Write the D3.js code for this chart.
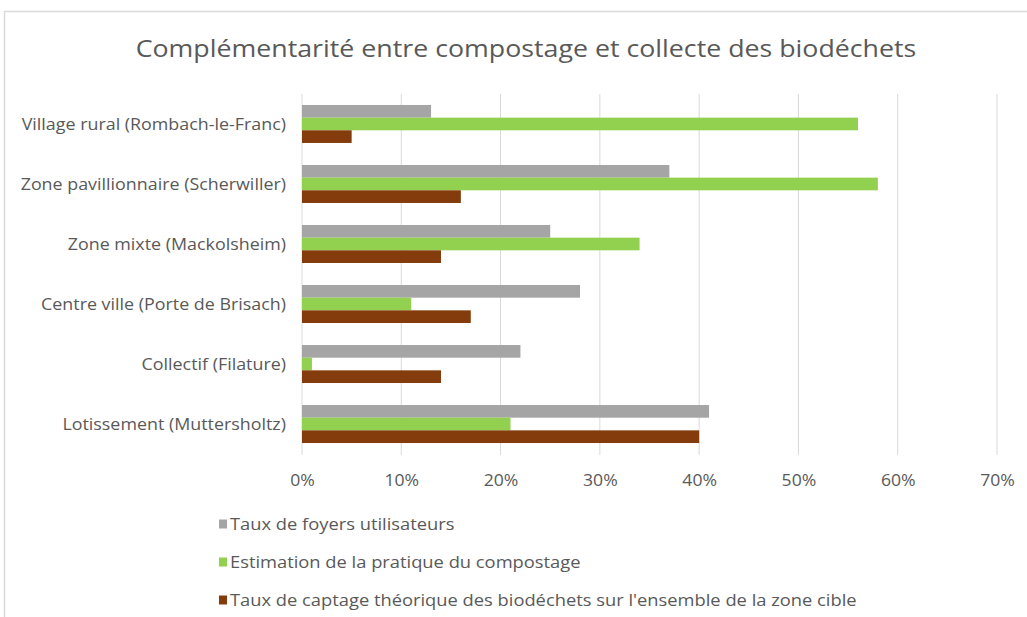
<!DOCTYPE html>
<html><head><meta charset="utf-8">
<script src="https://cdn.jsdelivr.net/npm/d3@7/dist/d3.min.js"></script>
<style>body{margin:0;background:#fff;overflow:hidden}svg{display:block}</style>
</head><body>
<script>
const categories = ["Village rural (Rombach-le-Franc)","Zone pavillionnaire (Scherwiller)","Zone mixte (Mackolsheim)","Centre ville (Porte de Brisach)","Collectif (Filature)","Lotissement (Muttersholtz)"];
const seriesNames = ["Taux de foyers utilisateurs","Estimation de la pratique du compostage","Taux de captage théorique des biodéchets sur l'ensemble de la zone cible"];
const seriesColors = ["#A5A5A5","#92D050","#843C0C"];
const foyers = [0.13,0.37,0.25,0.28,0.22,0.41];
const compostage = [0.56,0.58,0.34,0.11,0.01,0.21];
const captage = [0.05,0.16,0.14,0.17,0.14,0.40];
const xTicks = [0,0.1,0.2,0.3,0.4,0.5,0.6,0.7];
const title = "Complémentarité entre compostage et collecte des biodéchets";

const series = [foyers, compostage, captage];
const W = 1027, H = 617;
const svg = d3.select("body").append("svg").attr("width", W).attr("height", H);
const font = "'Open Sans', sans-serif";
const txt = "#595959";
const sx = 1.1, sy = 1.117;

svg.append("rect").attr("x",4.5).attr("y",11.5).attr("width",1200).attr("height",800)
  .attr("fill","#fff").attr("stroke","#D9D9D9").attr("stroke-width",1.5);

svg.append("text").attr("transform",`translate(526,57) scale(${1.115},1)`).attr("text-anchor","middle")
  .attr("font-family",font).attr("font-size",24).attr("fill",txt).text(title);

const x = d3.scaleLinear().domain([0,0.7]).range([302,997]);
const y = d3.scaleBand().domain(categories).range([94,454]).paddingInner(0.367).paddingOuter(0.183);
const ys = d3.scaleBand().domain(d3.range(3)).range([0,y.bandwidth()]);

// gridlines
svg.append("g").selectAll("line").data(xTicks).join("line")
  .attr("x1",d=>x(d)).attr("x2",d=>x(d)).attr("y1",94).attr("y2",455)
  .attr("stroke","#D9D9D9").attr("stroke-width",1);

// x axis labels
const xAxis = d3.axisBottom(x).tickValues(xTicks).tickFormat(d3.format(".0%")).tickSize(0).tickPadding(0);
const gx = svg.append("g").attr("transform","translate(0,475)").call(xAxis);
gx.select(".domain").remove();
gx.selectAll("text").attr("font-family",font).attr("font-size",16).attr("fill",txt).attr("dy","0.71em")
  .attr("transform",`scale(${sx},1)`);

// y axis labels
const yAxis = d3.axisLeft(y).tickSize(0).tickPadding(16/sy);
const gy = svg.append("g").attr("transform","translate(302,1)").call(yAxis);
gy.select(".domain").remove();
gy.selectAll("text").attr("font-family",font).attr("font-size",16).attr("fill",txt)
  .attr("transform",`scale(${sy},1)`);

// bars
categories.forEach((c,i)=>{
  series.forEach((s,j)=>{
    svg.append("rect").attr("x",x(0)).attr("y",y(c)+ys(j))
      .attr("width",x(s[i])-x(0)).attr("height",ys.bandwidth())
      .attr("fill",seriesColors[j]);
  });
});

// legend
const lg = svg.append("g");
seriesNames.forEach((n,j)=>{
  const yy = 524 + j*38;
  lg.append("rect").attr("x",219).attr("y",yy-4.5).attr("width",8).attr("height",9).attr("fill",seriesColors[j]);
  lg.append("text").attr("transform",`translate(230,${yy}) scale(1.146,1)`).attr("dy","0.35em").attr("font-family",font)
    .attr("font-size",16).attr("fill",txt).text(n);
});
</script>
</body></html>
